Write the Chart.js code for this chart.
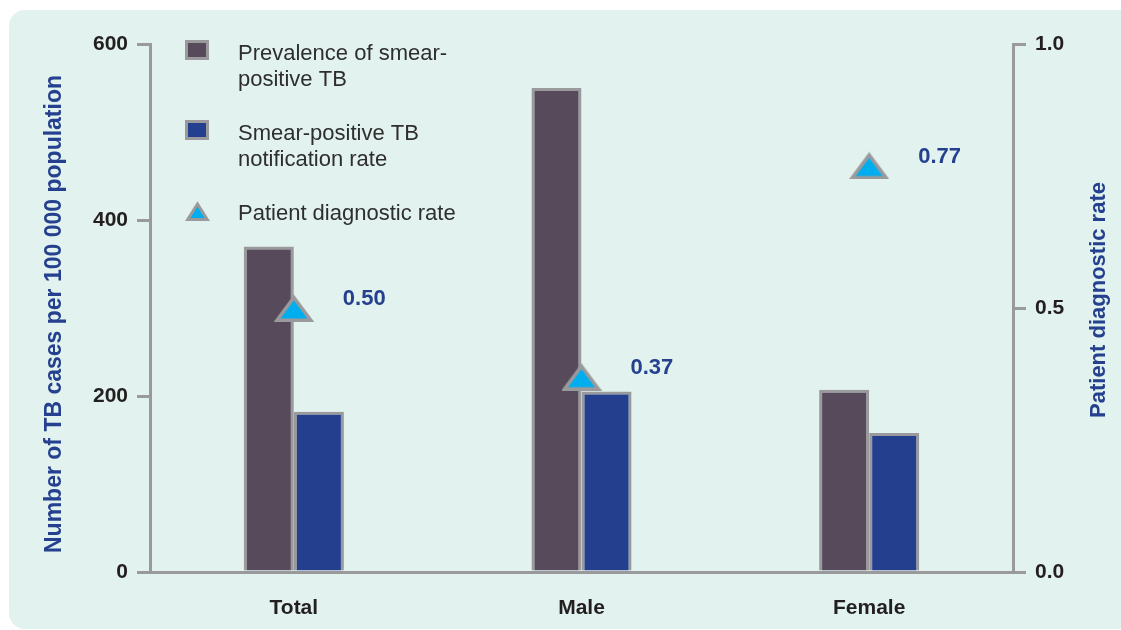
<!DOCTYPE html>
<html>
<head>
<meta charset="utf-8">
<title>Smear-positive TB</title>
<script src="https://cdn.jsdelivr.net/npm/chart.js@4/dist/chart.umd.min.js"></script>
<style>
  html, body { margin: 0; padding: 0; background: #fff; }
  canvas { display: block; }
</style>
</head>
<body>
<canvas id="tb_chart" width="1121" height="630"></canvas>
<script>
// --- data ---
const categories = ["Total", "Male", "Female"];
const prevalence = [370, 550, 207];
const notification = [182, 205, 158];
const diagnosticRate = [0.50, 0.37, 0.77];
const leftTicks = [0, 200, 400, 600];
const rightTicks = [0.0, 0.5, 1.0];

const seriesLabels = [
  "Prevalence of smear-positive TB",
  "Smear-positive TB notification rate",
  "Patient diagnostic rate",
];
const legendLines = [
  ["Prevalence of smear-", "positive TB"],
  ["Smear-positive TB", "notification rate"],
  ["Patient diagnostic rate"],
];
const leftTitle = "Number of TB cases per 100 000 population";
const rightTitle = "Patient diagnostic rate";

// --- colours ---
const PANEL_BG = "#e2f2ee";
const AXIS_GREY = "#9a9a9d";
const BAR_PURPLE = "#564a5b";
const BAR_BLUE = "#233f8e";
const TRI_CYAN = "#00aeef";
const TITLE_BLUE = "#24408e";
const TICK_TEXT = "#231f20";
const LEGEND_TEXT = "#2e2e2e";
const FONT = "'Liberation Sans', Arial, Helvetica, sans-serif";

Chart.defaults.font.family = FONT;

// triangle marker drawn on a small canvas so it is centred on its box
function makeTriangle(w, h, lw) {
  const c = document.createElement("canvas");
  c.width = w;
  c.height = h;
  const g = c.getContext("2d");
  g.beginPath();
  g.moveTo(w / 2, lw);
  g.lineTo(w - lw * 0.9, h - lw / 2);
  g.lineTo(lw * 0.9, h - lw / 2);
  g.closePath();
  g.fillStyle = TRI_CYAN;
  g.fill();
  g.lineWidth = lw;
  g.lineJoin = "miter";
  g.strokeStyle = AXIS_GREY;
  g.stroke();
  return c;
}
const triPoint = makeTriangle(40, 28, 3.5);
const triLegend = makeTriangle(25, 20, 3);

// rounded panel behind everything
const panelPlugin = {
  id: "panel",
  beforeDraw(chart) {
    const { ctx } = chart;
    ctx.save();
    ctx.fillStyle = PANEL_BG;
    ctx.beginPath();
    ctx.roundRect(9, 10, 1140, 619, 16);
    ctx.fill();
    ctx.restore();
  },
};

// axis titles (both read bottom to top)
const titlesPlugin = {
  id: "axisTitles",
  afterDraw(chart) {
    const { ctx, chartArea } = chart;
    const midY = (chartArea.top + chartArea.bottom) / 2;
    ctx.save();
    ctx.fillStyle = TITLE_BLUE;
    ctx.textAlign = "center";
    ctx.textBaseline = "middle";
    [[leftTitle, 55, midY + 6, 23], [rightTitle, 1099, midY - 8, 22]].forEach(([t, x, y, size]) => {
      ctx.save();
      ctx.font = "bold " + size + "px " + FONT;
      ctx.translate(x, y);
      ctx.rotate(-Math.PI / 2);
      ctx.fillText(t, 0, 0);
      ctx.restore();
    });
    ctx.restore();
  },
};

// value labels next to the triangles
const rateLabelPlugin = {
  id: "rateLabels",
  afterDatasetsDraw(chart) {
    const { ctx } = chart;
    const meta = chart.getDatasetMeta(2);
    ctx.save();
    ctx.fillStyle = TITLE_BLUE;
    ctx.font = "bold 22px " + FONT;
    ctx.textAlign = "left";
    ctx.textBaseline = "middle";
    meta.data.forEach((pt, i) => {
      ctx.fillText(diagnosticRate[i].toFixed(2), pt.x + 49, pt.y - 9);
    });
    ctx.restore();
  },
};

// legend with wrapped lines, top-left inside the plot
const legendPlugin = {
  id: "wrapLegend",
  afterDraw(chart) {
    const { ctx } = chart;
    const markX = 185, textX = 238;
    let baseline = 60;
    ctx.save();
    ctx.font = "22px " + FONT;
    ctx.textAlign = "left";
    ctx.textBaseline = "alphabetic";
    legendLines.forEach((lines, i) => {
      if (i < 2) {
        const fill = i === 0 ? BAR_PURPLE : BAR_BLUE;
        ctx.fillStyle = AXIS_GREY;
        ctx.fillRect(markX, baseline - 20, 24, 20);
        ctx.fillStyle = fill;
        ctx.fillRect(markX + 3, baseline - 17, 18, 14);
      } else {
        ctx.drawImage(triLegend, markX, baseline - 19);
      }
      ctx.fillStyle = LEGEND_TEXT;
      lines.forEach((ln, j) => ctx.fillText(ln, textX, baseline + j * 26));
      baseline += (lines.length - 1) * 26 + 54;
    });
    ctx.restore();
  },
};

const axisGrid = {
  drawOnChartArea: false,
  drawTicks: true,
  tickLength: 13,
  lineWidth: 3,
  color: AXIS_GREY,
};
const tickFont = { size: 21, weight: "bold" };

new Chart(document.getElementById("tb_chart"), {
  data: {
    labels: categories,
    datasets: [
      {
        type: "bar",
        label: seriesLabels[0],
        data: prevalence,
        backgroundColor: BAR_PURPLE,
        borderColor: AXIS_GREY,
        borderWidth: 3,
        yAxisID: "y",
        order: 1,
      },
      {
        type: "bar",
        label: seriesLabels[1],
        data: notification,
        backgroundColor: BAR_BLUE,
        borderColor: AXIS_GREY,
        borderWidth: 3,
        yAxisID: "y",
        order: 1,
      },
      {
        type: "line",
        label: seriesLabels[2],
        data: diagnosticRate,
        showLine: false,
        pointStyle: triPoint,
        pointRadius: 14,
        yAxisID: "y1",
        order: 0,
      },
    ],
  },
  options: {
    responsive: false,
    animation: false,
    layout: { padding: { top: 44, left: 0, right: 0, bottom: 0 } },
    datasets: {
      bar: { categoryPercentage: 0.348, barPercentage: 1.0 },
    },
    plugins: {
      legend: { display: false },
      tooltip: { enabled: false },
    },
    scales: {
      x: {
        grid: { display: false },
        border: { display: true, color: AXIS_GREY, width: 3 },
        ticks: { color: TICK_TEXT, font: tickFont, padding: 16 },
        afterFit(scale) { scale.height = 58; },
      },
      y: {
        position: "left",
        min: leftTicks[0],
        max: leftTicks[leftTicks.length - 1],
        afterBuildTicks(scale) { scale.ticks = leftTicks.map((v) => ({ value: v })); },
        grid: axisGrid,
        border: { display: true, color: AXIS_GREY, width: 3 },
        ticks: { color: TICK_TEXT, font: tickFont, padding: 9 },
        afterFit(scale) { scale.width = 150; },
      },
      y1: {
        position: "right",
        min: rightTicks[0],
        max: rightTicks[rightTicks.length - 1],
        afterBuildTicks(scale) { scale.ticks = rightTicks.map((v) => ({ value: v })); },
        grid: axisGrid,
        border: { display: true, color: AXIS_GREY, width: 3 },
        ticks: {
          color: TICK_TEXT,
          font: tickFont,
          padding: 9,
          callback: (v) => Number(v).toFixed(1),
        },
        afterFit(scale) { scale.width = 108; },
      },
    },
  },
  plugins: [panelPlugin, titlesPlugin, rateLabelPlugin, legendPlugin],
});
</script>
</body>
</html>
